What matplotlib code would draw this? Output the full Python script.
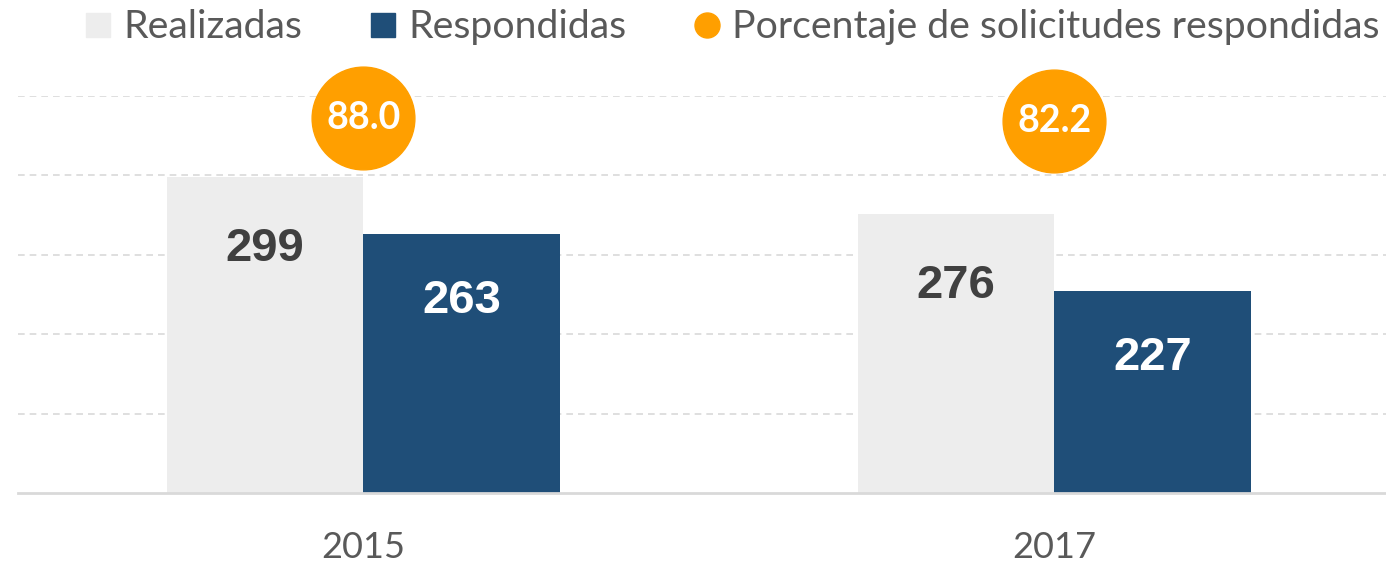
import matplotlib
matplotlib.use("Agg")
import matplotlib.pyplot as plt
from matplotlib.lines import Line2D
import numpy as np

# data
years = ["2015", "2017"]
realizadas = [299, 276]
respondidas = [263, 227]
porcentaje = [88.0, 82.2]

LIGHT = "#EDEDED"
DARK = "#1F4E78"
ORANGE = "#FF9F00"
TEXT = "#595959"

fig = plt.figure(figsize=(13.86, 5.68), dpi=100)
ax = fig.add_axes([18 / 1386, 75 / 568, 1382 / 1386, 397 / 568])

x = np.arange(len(years))
w = 0.285
ax.bar(x - w / 2, np.array(realizadas) - 100, w, bottom=100, color=LIGHT)
ax.bar(x + w / 2, np.array(respondidas) - 100, w, bottom=100, color=DARK)

ax.set_xlim(-0.5, 1.5)
ax.set_ylim(100, 350)
ax.set_yticks([150, 200, 250, 300, 350])
ax.yaxis.grid(True, color="#D9D9D9", linestyle=(0, (4, 3)), linewidth=1.2)
ax.set_axisbelow(True)
for s in ["top", "right", "left"]:
    ax.spines[s].set_visible(False)
ax.spines["bottom"].set_color("#D9D9D9")
ax.spines["bottom"].set_linewidth(2)
ax.set_xticks(x)
ax.set_xticklabels(years, fontsize=26, color=TEXT, family="Lato")

for xi, v in zip(x, realizadas):
    ax.annotate(str(v), (xi - w / 2, v), xytext=(0, -52), textcoords="offset points",
                ha="center", va="center", fontsize=34, fontweight="bold",
                color="#404040", family="Liberation Sans")
for xi, v in zip(x, respondidas):
    ax.annotate(str(v), (xi + w / 2, v), xytext=(0, -48), textcoords="offset points",
                ha="center", va="center", fontsize=34, fontweight="bold",
                color="white", family="Liberation Sans")

# percentage circles on a secondary scale
ax2 = ax.twinx()
ax2.set_ylim(-640, 130)
ax2.axis("off")
ax2.scatter(x, porcentaje, s=74 ** 2, color=ORANGE, clip_on=False, zorder=5)
for xi, p in zip(x, porcentaje):
    ax2.text(xi, p, f"{p:.1f}", ha="center", va="center", fontsize=27,
             fontweight="bold", color="white", family="Lato", zorder=6)

ax.tick_params(left=False, labelleft=False, right=False, bottom=False)
ax.tick_params(axis="x", pad=24)

handles = [
    Line2D([], [], marker="s", linestyle="none", markersize=17, color=LIGHT),
    Line2D([], [], marker="s", linestyle="none", markersize=17, color=DARK),
    Line2D([], [], marker="o", linestyle="none", markersize=18, color=ORANGE),
]
labels = ["Realizadas", "Respondidas", "Porcentaje de solicitudes respondidas"]
leg = fig.legend(handles, labels, loc="center", bbox_to_anchor=(0.528, 0.952), ncol=3,
                 frameon=False, handlelength=0.7, handletextpad=0.3,
                 columnspacing=1.7, borderpad=0, prop={"family": "Lato", "size": 28.3})
for t in leg.get_texts():
    t.set_color(TEXT)

fig.savefig("out.png", dpi=100)
